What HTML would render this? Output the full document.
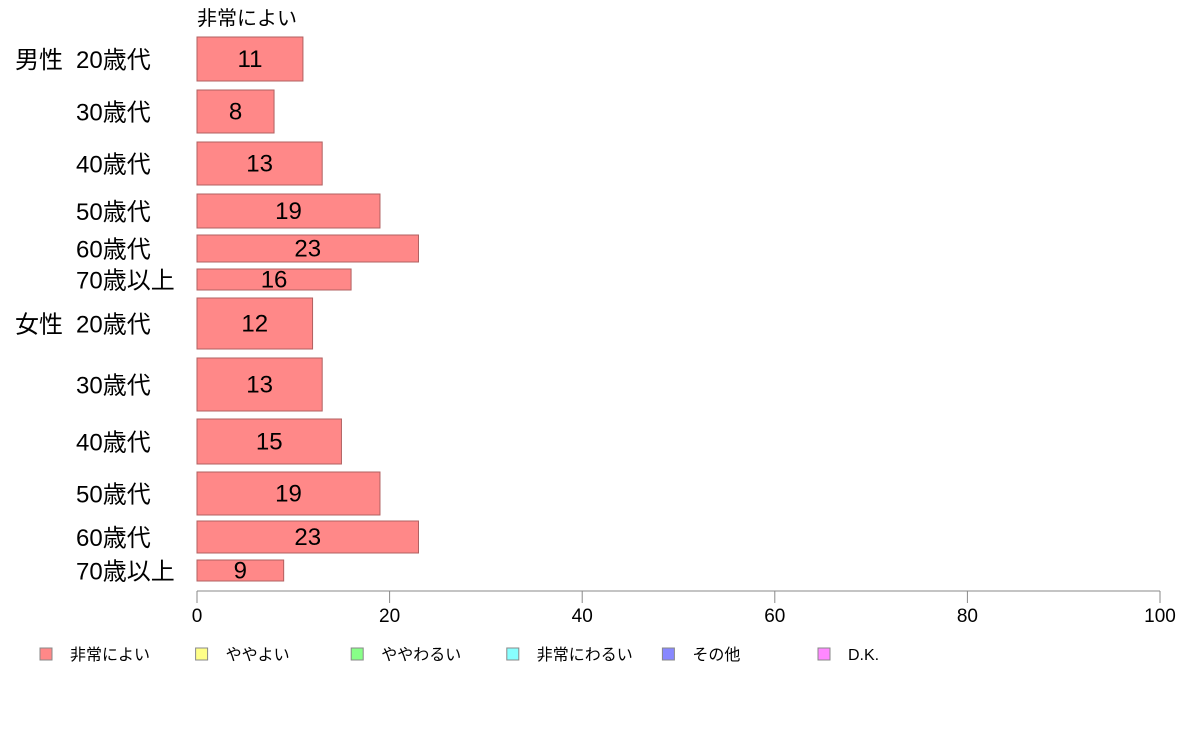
<!DOCTYPE html>
<html><head><meta charset="utf-8"><style>
body{margin:0;background:#fff;width:1188px;height:736px;overflow:hidden;font-family:"Liberation Sans","Noto Sans CJK JP",sans-serif}
</style></head><body>
<svg id="chart" width="1188" height="736" xmlns="http://www.w3.org/2000/svg" font-family="Liberation Sans, Noto Sans CJK JP, sans-serif">
<text x="197" y="25" font-size="20" fill="#000">非常によい</text>
<g id="bars"></g>
<g id="axis"></g>
<g id="legend"></g>
</svg>
<script>
const groups = ["男性","","","","","","女性","","","","",""];
const categories = ["20歳代","30歳代","40歳代","50歳代","60歳代","70歳以上","20歳代","30歳代","40歳代","50歳代","60歳代","70歳以上"];
const values = [11,8,13,19,23,16,12,13,15,19,23,9];
const bandTops = [37,90,142,194,235,269,298,358,419,472,521,560];
const bandHeights = [44,43,43,34,27,21,51,53,45,43,32,21];
const ticks = [0,20,40,60,80,100];
const legendLabels = ["非常によい","ややよい","ややわるい","非常にわるい","その他","D.K."];
const legendColors = ["#ff8888","#ffff88","#88ff88","#88ffff","#8888ff","#ff88ff"];
const NS="http://www.w3.org/2000/svg";
const x0=197,x1=1160;
function xs(v){return x0+(v/100)*(x1-x0);}
function mk(tag,attrs,parent){const e=document.createElementNS(NS,tag);for(const k in attrs)e.setAttribute(k,attrs[k]);parent.appendChild(e);return e;}
const bars=document.getElementById('bars');
values.forEach((v,i)=>{
  const y=bandTops[i],h=bandHeights[i];
  const r=mk('rect',{x:x0,y:y,width:xs(v)-x0,height:h,fill:'#ff8888',stroke:'#b06060','stroke-width':1},bars);
  
  
  const t=mk('text',{x:(x0+xs(v))/2,y:y+h/2+8,'text-anchor':'middle','font-size':24,fill:'#000'},bars);
  t.textContent=v;
  
  
  const c=mk('text',{x:76,y:y+h/2+9,'font-size':24,fill:'#000'},bars);
  c.textContent=categories[i];
  
  
  if(groups[i]){
    const g=mk('text',{x:15,y:y+h/2+9,'font-size':24,fill:'#000'},bars);
    g.textContent=groups[i];
    
    
  }
});
const ax=document.getElementById('axis');
const al=mk('line',{x1:x0,x2:x1,y1:591,y2:591,stroke:'#888','stroke-width':1},ax);


ticks.forEach(t=>{
  const l=mk('line',{x1:xs(t),x2:xs(t),y1:591,y2:603,stroke:'#888','stroke-width':1},ax);
  
  
  const tx=mk('text',{x:xs(t),y:622,'text-anchor':'middle','font-size':19,fill:'#000'},ax);
  tx.textContent=t;
  
  
});
const lg=document.getElementById('legend');
legendLabels.forEach((lab,i)=>{
  const x=40+i*155.6;
  const r=mk('rect',{x:x,y:648,width:12,height:12,fill:legendColors[i],stroke:'#888','stroke-width':1},lg);
  
  
  const t=mk('text',{x:x+30,y:660,'font-size':16,fill:'#000'},lg);
  t.textContent=lab;
  
  
});
</script>
</body></html>
